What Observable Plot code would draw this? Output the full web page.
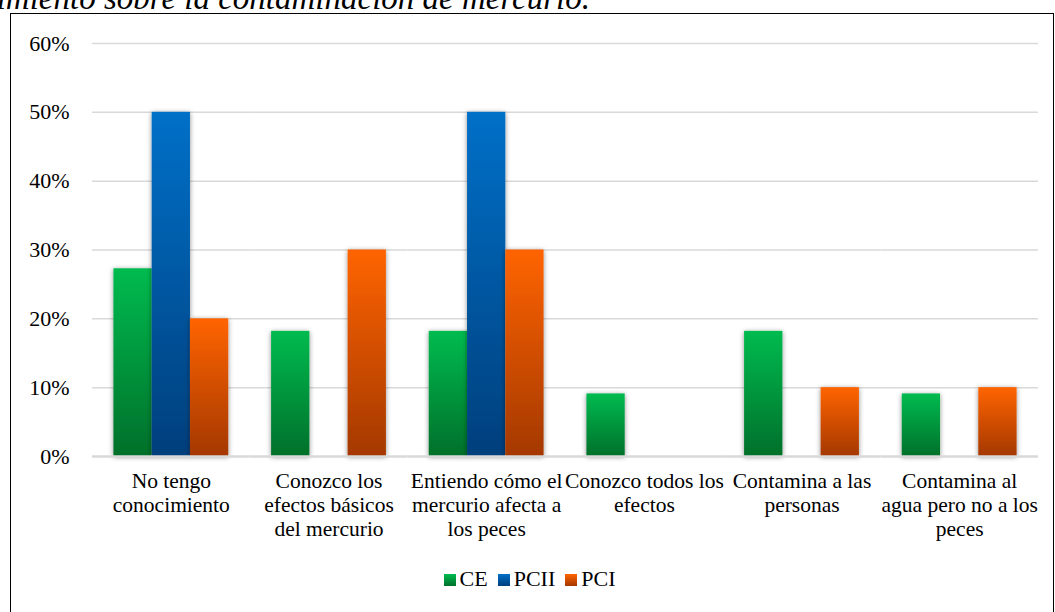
<!DOCTYPE html>
<html>
<head>
<meta charset="utf-8">
<script src="https://cdn.jsdelivr.net/npm/d3@7"></script>
<script src="https://cdn.jsdelivr.net/npm/@observablehq/plot@0.6"></script>
<style>
  html, body { margin: 0; padding: 0; background: #fff; overflow: hidden; }
  body { width: 1055px; height: 612px; position: relative; font-family: "Liberation Serif", "DejaVu Serif", serif; }
  #title { position: absolute; right: 465px; top: -18px; font-size: 33px; line-height: 33px; font-style: italic; white-space: nowrap; color: #000; text-align: right; }
  #frame { position: absolute; left: 10px; top: 13px; width: 1044px; height: 620px; border: 1.5px solid #000; box-sizing: border-box; }
  #chart { position: absolute; left: 0; top: 0; }
  #legend { position: absolute; top: 566px; left: 2px; width: 1055px; text-align: center; font-size: 22px; }
  #legend span.item { display: inline-block; margin: 0 5px; }
</style>
</head>
<body>
<svg width="0" height="0" style="position:absolute">
  <defs>
    <linearGradient id="gCE" x1="0" y1="0" x2="0" y2="1">
      <stop offset="0" stop-color="#00bb4f"/><stop offset="1" stop-color="#00702a"/>
    </linearGradient>
    <linearGradient id="gPCII" x1="0" y1="0" x2="0" y2="1">
      <stop offset="0" stop-color="#0070c8"/><stop offset="1" stop-color="#003f7c"/>
    </linearGradient>
    <linearGradient id="gPCI" x1="0" y1="0" x2="0" y2="1">
      <stop offset="0" stop-color="#ff6400"/><stop offset="1" stop-color="#a43800"/>
    </linearGradient>
    <filter id="shadow" x="-30%" y="-10%" width="160%" height="125%">
      <feDropShadow dx="0" dy="1" stdDeviation="2.5" flood-color="#000" flood-opacity="0.45"/>
    </filter>
  </defs>
</svg>
<div id="title">conocimiento sobre la contaminación de mercurio.</div>
<div id="frame"></div>
<div id="chart"></div>
<div id="legend"></div>
<script>
const categories = [
  "No tengo\nconocimiento",
  "Conozco los\nefectos básicos\ndel mercurio",
  "Entiendo cómo el\nmercurio afecta a\nlos peces",
  "Conozco todos los\nefectos",
  "Contamina a las\npersonas",
  "Contamina al\nagua pero no a los\npeces"
];
const series = ["CE", "PCII", "PCI"];
const valuesCE   = [27.27, 18.18, 18.18, 9.09, 18.18, 9.09];
const valuesPCII = [50, 0, 50, 0, 0, 0];
const valuesPCI  = [20, 30, 30, 0, 10, 10];
const yTicks = [0, 10, 20, 30, 40, 50, 60];
const legendColors = {CE: "url(#gCE)", PCII: "url(#gPCII)", PCI: "url(#gPCI)"};

const table = [];
const bySeries = {CE: valuesCE, PCII: valuesPCII, PCI: valuesPCI};
for (const s of series) categories.forEach((c, i) => table.push({cat: c, s, v: bySeries[s][i]}));

const barFor = s => Plot.barY(table.filter(d => d.s === s && d.v > 0), {
  fx: "cat", x: "s", y: "v", fill: legendColors[s], inset: 0,
  render: (index, scales, values, dims, ctx, next) => {
    const g = next(index, scales, values, dims, ctx);
    if (g) g.setAttribute("filter", "url(#shadow)");
    return g;
  }
});

const FONT = '"Liberation Serif", "DejaVu Serif", serif';
const chart = Plot.plot({
  width: 1055,
  height: 560,
  marginTop: 43,
  marginBottom: 104,
  marginLeft: 92,
  marginRight: 17,
  style: {fontFamily: FONT, background: "transparent"},
  fx: {domain: categories, padding: 0, round: false, label: null},
  x: {domain: series, paddingInner: 0, paddingOuter: 0.56, round: false, axis: null},
  y: {domain: [0, 60], label: null},
  marks: [
    Plot.ruleY(yTicks.filter(t => t > 0), {stroke: "#d9d9d9", strokeWidth: 1.5}),
    Plot.axisY({ticks: yTicks, tickFormat: d => d + "%", tickSize: 0, tickPadding: 23, fontSize: 22, label: null, fill: "#000"}),
    Plot.axisFx({anchor: "bottom", tickSize: 0, tickPadding: 14, fontSize: 21.5, lineHeight: 1.12, label: null, fill: "#000", tickFormat: d => d}),
    barFor("CE"), barFor("PCII"), barFor("PCI"),
    Plot.ruleY([0], {stroke: "#d9d9d9", strokeWidth: 2.5})
  ]
});
document.getElementById("chart").appendChild(chart);

const legend = document.getElementById("legend");
legend.innerHTML = series.map(s => `<span class="item"><svg width="12" height="12" style="margin-right:4px"><rect width="12" height="12" fill="${legendColors[s]}"/></svg>${s}</span>`).join("");
</script>
</body>
</html>
